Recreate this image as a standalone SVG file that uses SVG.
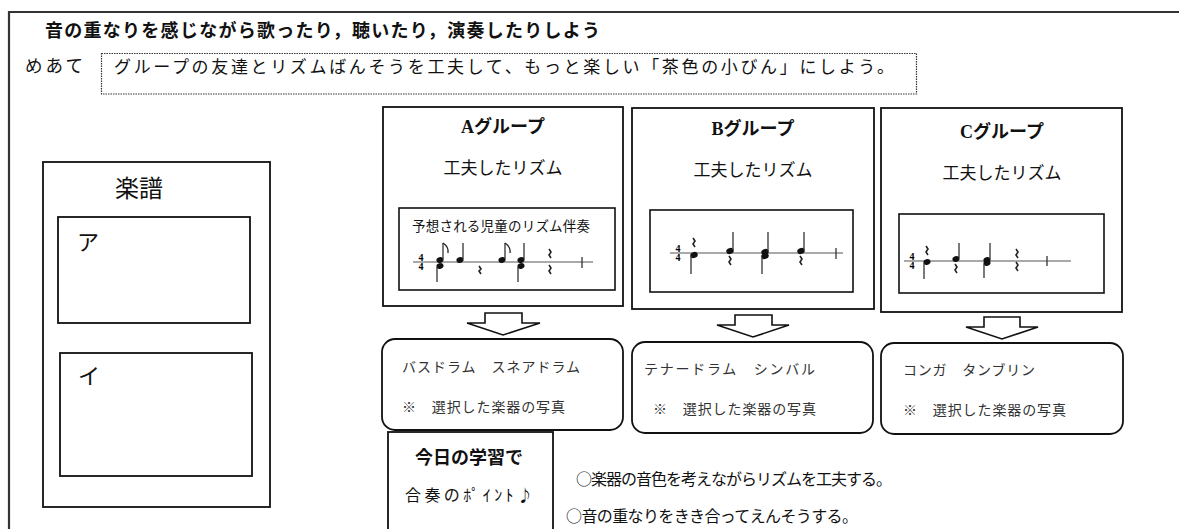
<svg xmlns="http://www.w3.org/2000/svg" width="1179" height="529" viewBox="0 0 1179 529">
<style>
text{font-family:"Noto Sans CJK JP","Noto Sans",sans-serif;fill:#111}
.box{fill:#fff;stroke:#111;stroke-width:1.8}
.inner{fill:#fff;stroke:#111;stroke-width:1.6}
.rbox{fill:#fff;stroke:#111;stroke-width:1.8}
.arrow{fill:#fff;stroke:#111;stroke-width:1.6;stroke-linejoin:miter}
.title{font-size:18px;font-weight:bold;text-anchor:middle}
.sub{font-size:17px;text-anchor:middle}
.inst{font-size:14px;fill:#333}
.staff{stroke:#555;stroke-width:1.2}
.stem{stroke:#333;stroke-width:1.3}
.rest{fill:none;stroke:#222;stroke-width:1.6}
.ts{font-family:"Liberation Serif",serif;font-size:10px;font-weight:bold;text-anchor:middle;fill:#000}
.head{fill:#111}
</style>
<rect width="1179" height="529" fill="#fff"/>
<g id="frame">
<path d="M9,529 V12 H1179" fill="none" stroke="#333" stroke-width="2.2"/>
</g>
<g id="header">
<text x="45" y="37" font-size="18" font-weight="bold" textLength="555">音の重なりを感じながら歌ったり，聴いたり，演奏したりしよう</text>
<text x="25" y="72" font-size="17.5" fill="#222" textLength="58">めあて</text>
<rect x="101.5" y="53.5" width="815" height="40.5" fill="none" stroke="#333" stroke-width="1.2" stroke-dasharray="1.5,1"/>
<text x="114" y="73" font-size="17" fill="#222" textLength="780">グループの友達とリズムばんそうを工夫して、もっと楽しい「茶色の小びん」にしよう。</text>
</g>
<g id="score">
<rect class="box" x="43" y="162" width="227" height="345"/>
<text x="115" y="197" font-size="24">楽譜</text>
<rect class="box" x="58" y="217" width="192" height="106"/>
<text x="77" y="250" font-size="22">ア</text>
<rect class="box" x="60" y="353" width="192" height="123"/>
<text x="78" y="384" font-size="22">イ</text>
</g>
<g id="groupA">
<rect class="box" x="383" y="107" width="240" height="199"/>
<text class="title" x="503" y="133"><tspan font-family="Liberation Serif,serif">A</tspan>グループ</text>
<text class="sub" x="503" y="174">工夫したリズム</text>
<rect class="inner" x="399" y="208" width="216" height="82"/>
<text x="412" y="231" font-size="13.5" fill="#333" textLength="178">予想される児童のリズム伴奏</text>
<line class="staff" x1="413" y1="262" x2="593" y2="262"/>
<text class="ts" x="421" y="261">4</text><text class="ts" x="421" y="270">4</text>
<ellipse class="head" cx="440" cy="260" rx="3.6" ry="2.8" transform="rotate(-20 440 260)"/>
<ellipse class="head" cx="440" cy="266" rx="3.6" ry="2.8" transform="rotate(-20 440 266)"/>
<line class="stem" x1="443" y1="259" x2="443" y2="243"/><path d="M443,243 q6,4 5,10" fill="none" stroke="#222" stroke-width="1.3"/>
<line class="stem" x1="437" y1="267" x2="437" y2="282"/>
<ellipse class="head" cx="460" cy="260" rx="3.6" ry="2.8" transform="rotate(-20 460 260)"/>
<line class="stem" x1="463" y1="259" x2="463" y2="243"/>
<path class="rest" d="M479,266 l2,3 l-2,2 l2,3"/>
<ellipse class="head" cx="502" cy="260" rx="3.6" ry="2.8" transform="rotate(-20 502 260)"/>
<line class="stem" x1="505" y1="259" x2="505" y2="243"/><path d="M505,243 q6,4 5,10" fill="none" stroke="#222" stroke-width="1.3"/>
<ellipse class="head" cx="521" cy="260" rx="3.6" ry="2.8" transform="rotate(-20 521 260)"/>
<ellipse class="head" cx="521" cy="266" rx="3.6" ry="2.8" transform="rotate(-20 521 266)"/>
<line class="stem" x1="524" y1="259" x2="524" y2="243"/>
<line class="stem" x1="518" y1="267" x2="518" y2="282"/>
<path class="rest" d="M549,249 l2,3 l-2,3 l2,3"/>
<path class="rest" d="M549,265 l2,3 l-2,3 l2,3"/>
<line class="stem" x1="582" y1="257" x2="582" y2="268"/>
</g>
<g id="groupB">
<rect class="box" x="632" y="108" width="242" height="201"/>
<text class="title" x="753" y="135"><tspan font-family="Liberation Serif,serif">B</tspan>グループ</text>
<text class="sub" x="753" y="176">工夫したリズム</text>
<rect class="inner" x="650" y="210" width="203" height="82"/>
<line class="staff" x1="670" y1="253" x2="843" y2="253"/>
<text class="ts" x="678" y="252">4</text><text class="ts" x="678" y="261">4</text>
<path class="rest" d="M693,238 l2,3 l-2,3 l2,3"/>
<ellipse class="head" cx="694" cy="255" rx="3.8" ry="3" transform="rotate(-20 694 255)"/>
<line class="stem" x1="691" y1="256" x2="691" y2="274"/>
<ellipse class="head" cx="730" cy="251" rx="3.8" ry="3" transform="rotate(-20 730 251)"/>
<line class="stem" x1="733" y1="250" x2="733" y2="232"/>
<path class="rest" d="M729,256 l2,3 l-2,3 l2,3"/>
<ellipse class="head" cx="765" cy="252" rx="3.8" ry="3" transform="rotate(-20 765 252)"/>
<ellipse class="head" cx="765" cy="256" rx="3.8" ry="3" transform="rotate(-20 765 256)"/>
<line class="stem" x1="768" y1="251" x2="768" y2="232"/>
<line class="stem" x1="762" y1="257" x2="762" y2="274"/>
<ellipse class="head" cx="801" cy="251" rx="3.8" ry="3" transform="rotate(-20 801 251)"/>
<line class="stem" x1="804" y1="250" x2="804" y2="232"/>
<path class="rest" d="M800,256 l2,3 l-2,3 l2,3"/>
<line class="stem" x1="836" y1="248" x2="836" y2="259"/>
</g>
<g id="groupC">
<rect class="box" x="881" y="108" width="241" height="204"/>
<text class="title" x="1002" y="138"><tspan font-family="Liberation Serif,serif">C</tspan>グループ</text>
<text class="sub" x="1002" y="179">工夫したリズム</text>
<rect class="inner" x="899" y="214" width="205" height="79"/>
<line class="staff" x1="904" y1="261" x2="1071" y2="261"/>
<text class="ts" x="912" y="260">4</text><text class="ts" x="912" y="269">4</text>
<path class="rest" d="M926,246 l2,3 l-2,3 l2,3"/>
<ellipse class="head" cx="927" cy="262" rx="3.6" ry="2.8" transform="rotate(-20 927 262)"/>
<line class="stem" x1="924" y1="263" x2="924" y2="279"/>
<ellipse class="head" cx="956" cy="259" rx="3.6" ry="2.8" transform="rotate(-20 956 259)"/>
<line class="stem" x1="959" y1="258" x2="959" y2="243"/>
<path class="rest" d="M955,264 l2,3 l-2,3 l2,3"/>
<ellipse class="head" cx="987" cy="260" rx="3.6" ry="2.8" transform="rotate(-20 987 260)"/>
<ellipse class="head" cx="987" cy="263" rx="3.6" ry="2.8" transform="rotate(-20 987 263)"/>
<line class="stem" x1="990" y1="259" x2="990" y2="243"/>
<line class="stem" x1="984" y1="264" x2="984" y2="278"/>
<path class="rest" d="M1016,249 l2,3 l-2,3 l2,3 M1016,262 l2,3 l-2,3 l2,3"/>
<line class="stem" x1="1047" y1="256" x2="1047" y2="266"/>
</g>
<g id="connectors">
<path class="arrow" d="M485,313 H522 V323 H540 L503,335 L467,323 H485 Z"/>
<path class="arrow" d="M735,315 H772 V325 H789 L753,337 L717,325 H735 Z"/>
<path class="arrow" d="M984,317 H1020 V327 H1038 L1002,339 L966,327 H984 Z"/>
</g>
<g id="instA">
<rect class="rbox" x="382" y="339" width="241" height="91" rx="13"/>
<text class="inst" x="402" y="372" textLength="178">バスドラム　スネアドラム</text>
<text class="inst" x="402" y="412" font-size="15" textLength="163">※　選択した楽器の写真</text>
</g>
<g id="instB">
<rect class="rbox" x="632" y="342" width="241" height="91" rx="13"/>
<text class="inst" x="644" y="374" textLength="171">テナードラム　シンバル</text>
<text class="inst" x="653" y="414" font-size="15" textLength="163">※　選択した楽器の写真</text>
</g>
<g id="instC">
<rect class="rbox" x="881" y="343" width="242" height="91" rx="13"/>
<text class="inst" x="903" y="375" textLength="132">コンガ　タンブリン</text>
<text class="inst" x="903" y="415" font-size="15" textLength="163">※　選択した楽器の写真</text>
</g>
<g id="point">
<rect class="box" x="388" y="432" width="165" height="100"/>
<text x="469" y="464" font-size="18" font-weight="bold" text-anchor="middle">今日の学習で</text>
<text x="405" y="501" font-size="16" fill="#222" textLength="128">合奏のﾎﾟｲﾝﾄ♪</text>
</g>
<g id="notes">
<text x="576" y="485" font-size="16" fill="#222" textLength="316">○楽器の音色を考えながらリズムを工夫する。</text>
<text x="566" y="522" font-size="16" fill="#222" textLength="292">○音の重なりをきき合ってえんそうする。</text>
</g>
</svg>
